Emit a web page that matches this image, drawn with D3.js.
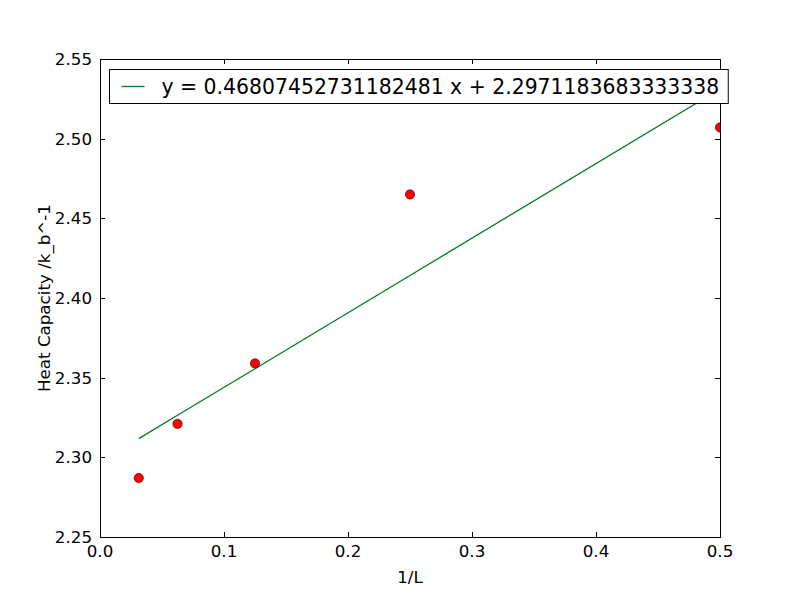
<!DOCTYPE html>
<html>
<head>
<meta charset="utf-8">
<script src="https://cdn.jsdelivr.net/npm/d3@7"></script>
<style>
  body { margin: 0; background: #fff; }
  text { font-family: "DejaVu Sans", sans-serif; fill: #000; }
</style>
</head>
<body>
<svg id="chart" width="800" height="597"></svg>
<script>
// data
const invL = [0.03125, 0.0625, 0.125, 0.25, 0.5];
const heatCap = [2.287, 2.321, 2.359, 2.465, 2.507];
const slope = 0.46807452731182481;
const intercept = 2.2971183683333338;
const fitLabel = "y = 0.46807452731182481 x + 2.2971183683333338";
const xTicks = [0.0, 0.1, 0.2, 0.3, 0.4, 0.5];
const yTicks = [2.25, 2.30, 2.35, 2.40, 2.45, 2.50, 2.55];

const margin = { top: 59, right: 80, bottom: 60, left: 100 };
const W = 800, H = 597;
const w = W - margin.left - margin.right;
const h = H - margin.top - margin.bottom;

const svg = d3.select("#chart");
const g = svg.append("g").attr("transform", `translate(${margin.left},${margin.top})`);

const x = d3.scaleLinear().domain([0, 0.5]).range([0, w]);
const y = d3.scaleLinear().domain([2.25, 2.55]).range([h, 0]);

svg.append("defs").append("clipPath").attr("id", "clip")
  .append("rect").attr("width", w).attr("height", h);

const plot = g.append("g").attr("clip-path", "url(#clip)");

// fitted line through the sample x values
const fit = invL.map(v => [v, slope * v + intercept]);
plot.append("path")
  .datum(fit)
  .attr("fill", "none")
  .attr("stroke", "#007a1f")
  .attr("stroke-width", 1.3)
  .attr("d", d3.line().x(d => x(d[0])).y(d => y(d[1])));

plot.selectAll("circle")
  .data(invL.map((v, i) => [v, heatCap[i]]))
  .enter().append("circle")
    .attr("cx", d => x(d[0]))
    .attr("cy", d => y(d[1]))
    .attr("r", 4.7)
    .attr("fill", "#ff0000")
    .attr("stroke", "#000")
    .attr("stroke-width", 0.5);

// ticks inside, on all four sides
const tl = 5;
const tickG = g.append("g").attr("stroke", "#000").attr("stroke-width", 1);
xTicks.forEach(t => {
  let px = Math.round(x(t)) + 0.5;
  tickG.append("line").attr("x1", px).attr("x2", px).attr("y1", h).attr("y2", h - tl);
  tickG.append("line").attr("x1", px).attr("x2", px).attr("y1", 0).attr("y2", tl);
});
yTicks.forEach(t => {
  let py = Math.round(y(t)) + 0.5;
  tickG.append("line").attr("x1", 0).attr("x2", tl).attr("y1", py).attr("y2", py);
  tickG.append("line").attr("x1", w).attr("x2", w - tl).attr("y1", py).attr("y2", py);
});

g.selectAll(".xt").data(xTicks).enter().append("text")
  .attr("x", d => x(d)).attr("y", h + 20)
  .attr("text-anchor", "middle").attr("font-size", 16.7)
  .text(d => d3.format(".1f")(d));

g.selectAll(".yt").data(yTicks).enter().append("text")
  .attr("x", -8).attr("y", d => y(d)).attr("dy", "0.35em")
  .attr("text-anchor", "end").attr("font-size", 16.7)
  .text(d => d3.format(".2f")(d));

g.append("rect")
  .attr("x", 0.5).attr("y", 0.5).attr("width", w).attr("height", h)
  .attr("fill", "none").attr("stroke", "#000").attr("stroke-width", 1);

g.append("text")
  .attr("x", w / 2).attr("y", h + 46)
  .attr("text-anchor", "middle").attr("font-size", 16.7)
  .text("1/L");

g.append("text")
  .attr("transform", `translate(-50,${h / 2}) rotate(-90)`)
  .attr("text-anchor", "middle").attr("font-size", 16.7)
  .text("Heat Capacity /k_b^-1");

// legend, drawn on top and allowed past the axes edge
const leg = svg.append("g").attr("transform", "translate(109.5,69.5)");
const legText = leg.append("text")
  .attr("x", 52).attr("y", 17).attr("dy", "0.35em")
  .attr("font-size", 20.4)
  .text(fitLabel);
const tw = legText.node().getComputedTextLength();
leg.insert("rect", "text")
  .attr("width", 52 + tw + 9).attr("height", 34)
  .attr("fill", "#fff").attr("stroke", "#000").attr("stroke-width", 1);
leg.append("line")
  .attr("x1", 12).attr("x2", 35).attr("y1", 17).attr("y2", 17)
  .attr("stroke", "#007a1f").attr("stroke-width", 1.3);
</script>
</body>
</html>
